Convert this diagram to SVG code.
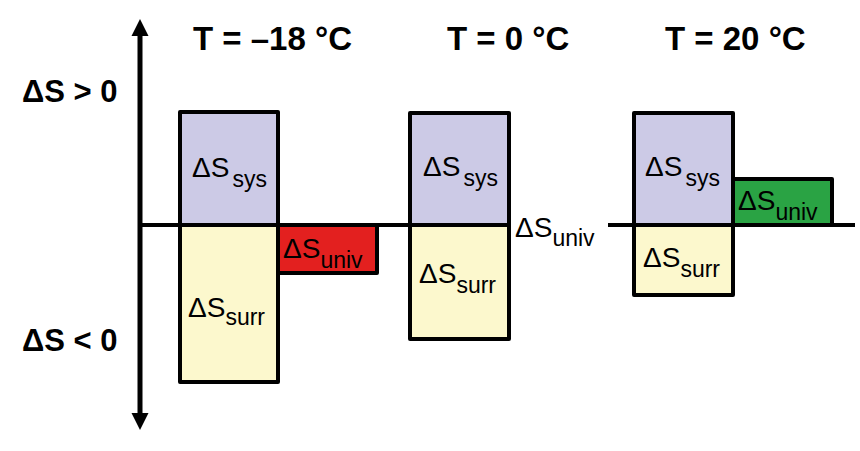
<svg xmlns="http://www.w3.org/2000/svg" width="860" height="451" viewBox="0 0 860 451">
<style>
.box{stroke:#000;stroke-width:4;stroke-linejoin:round}
.sys{fill:#CCCAE6}
.surr{fill:#FCF8CD}
.red{fill:#E3201F}
.green{fill:#2AA344}
.lbl{font-family:"Liberation Sans",Arial,sans-serif;font-size:28px;fill:#000}
.sub{font-size:23px}
.ttl{font-family:"Liberation Sans",Arial,sans-serif;font-size:33px;font-weight:bold;fill:#000}
.ax{font-family:"Liberation Sans",Arial,sans-serif;font-size:31px;font-weight:bold;fill:#000}
</style>
<rect width="860" height="451" fill="#fff"/>
<g id="titles">
<text class="ttl" x="193" y="50">T = –18 °C</text>
<text class="ttl" x="447" y="50">T = 0 °C</text>
<text class="ttl" x="665" y="50">T = 20 °C</text>
</g>
<g id="axis-labels">
<text class="ax" x="22" y="102">ΔS &gt; 0</text>
<text class="ax" x="22" y="351">ΔS &lt; 0</text>
</g>
<g id="col1">
<g id="sys1"><rect class="box sys" x="180" y="112" width="98" height="113"/>
<text class="lbl" x="192" y="177">ΔS<tspan class="sub" dx="3" dy="10">sys</tspan></text></g>
<g id="surr1"><rect class="box surr" x="180" y="225" width="98" height="157"/>
<text class="lbl" x="188" y="317">ΔS<tspan class="sub" dy="8">surr</tspan></text></g>
<g id="univ1"><rect class="box red" x="278" y="225" width="99" height="48"/>
<text class="lbl" x="283" y="258">ΔS<tspan class="sub" dy="10">univ</tspan></text></g>
</g>
<g id="col2">
<g id="sys2"><rect class="box sys" x="410" y="113" width="99" height="112"/>
<text class="lbl" x="423" y="176">ΔS<tspan class="sub" dx="3" dy="10">sys</tspan></text></g>
<g id="surr2"><rect class="box surr" x="410" y="225" width="99" height="114"/>
<text class="lbl" x="419" y="283">ΔS<tspan class="sub" dy="10">surr</tspan></text></g>
<g id="univ2"><text class="lbl" x="515" y="237">ΔS<tspan class="sub" dy="9">univ</tspan></text></g>
</g>
<g id="col3">
<g id="sys3"><rect class="box sys" x="634" y="113" width="99" height="112"/>
<text class="lbl" x="645" y="176">ΔS<tspan class="sub" dx="3" dy="10">sys</tspan></text></g>
<g id="surr3"><rect class="box surr" x="634" y="225" width="99" height="70"/>
<text class="lbl" x="643" y="267">ΔS<tspan class="sub" dy="10">surr</tspan></text></g>
<g id="univ3"><rect class="box green" x="733" y="179" width="99" height="46"/>
<text class="lbl" x="738" y="210">ΔS<tspan class="sub" dy="10">univ</tspan></text></g>
</g>
<g id="connectors" stroke="#000" fill="none">
<line x1="140" y1="225" x2="510" y2="225" stroke-width="4"/>
<line x1="608" y1="225" x2="855" y2="225" stroke-width="4"/>
<line x1="140" y1="32" x2="140" y2="417" stroke-width="5"/>
<polygon points="140,19 131.5,36 148.5,36" fill="#000" stroke="none"/>
<polygon points="140,430 131.5,413 148.5,413" fill="#000" stroke="none"/>
</g>
</svg>
